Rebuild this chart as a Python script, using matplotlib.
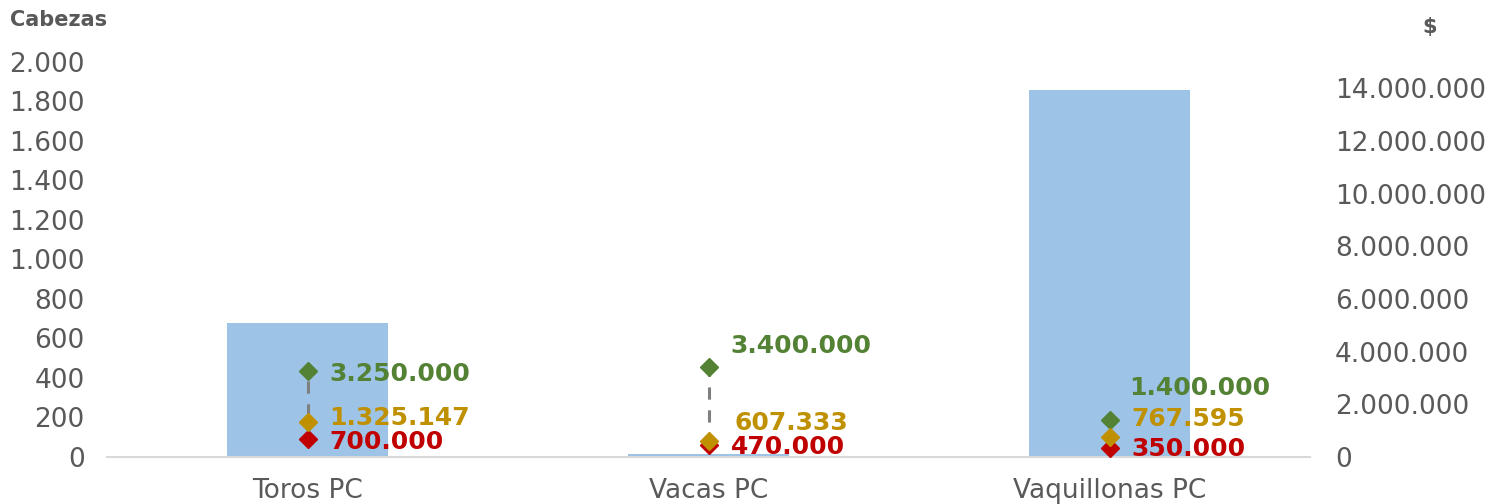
import matplotlib
matplotlib.use("Agg")
import matplotlib.pyplot as plt
from matplotlib.ticker import FuncFormatter

categories = ["Toros PC", "Vacas PC", "Vaquillonas PC"]
cabezas = [678, 15, 1858]
precio_max = [3250000, 3400000, 1400000]
precio_prom = [1325147, 607333, 767595]
precio_min = [700000, 470000, 350000]

left_ticks = list(range(0, 2001, 200))
right_ticks = list(range(0, 14000001, 2000000))

BAR = "#9DC3E6"
GREEN = "#548235"
GOLD = "#BF9000"
RED = "#C00000"
TXT = "#595959"

def fmt(v, _=None):
    return f"{int(round(v)):,}".replace(",", ".")

plt.rcParams['font.family'] = ['DejaVu Sans']

fig = plt.figure(figsize=(15.06, 5.04), dpi=100)
ax = fig.add_axes([0.0711, 0.0933, 0.8699 - 0.0711, 0.877 - 0.0933])
x = list(range(len(categories)))
ax.bar(x, cabezas, width=0.40, color=BAR, zorder=1)
ax.set_xlim(-0.5, 2.5)
ax.set_ylim(0, 2000)
ax.set_yticks(left_ticks)
ax.yaxis.set_major_formatter(FuncFormatter(fmt))
ax.set_xticks(x)
ax.set_xticklabels(categories)
for s in ["top", "right", "left"]:
    ax.spines[s].set_visible(False)
ax.spines["bottom"].set_color("#D9D9D9")
ax.spines["bottom"].set_linewidth(1.5)
ax.tick_params(axis="y", length=0, pad=16, labelsize=19, labelcolor=TXT)
ax.tick_params(axis="x", length=0, pad=15, labelsize=19, labelcolor=TXT)

ax2 = ax.twinx()
ax2.set_ylim(0, 15000000)
ax2.set_yticks(right_ticks)
ax2.yaxis.set_major_formatter(FuncFormatter(fmt))
for s in ["top", "right", "left", "bottom"]:
    ax2.spines[s].set_visible(False)
ax2.tick_params(axis="y", length=0, pad=18, labelsize=19, labelcolor=TXT)

ax2.vlines(x, precio_min, precio_max, colors="#7F7F7F", linestyles=(0, (4, 3.5)),
           linewidth=2.2, zorder=2)
ax2.plot(x, precio_max, "D", color=GREEN, ms=9, zorder=3, linestyle="none")
ax2.plot(x, precio_min, "D", color=RED, ms=9, zorder=3, linestyle="none")
ax2.plot(x, precio_prom, "D", color=GOLD, ms=9, zorder=4, linestyle="none")

# label offsets in pixels (dx, dy) per category
px = 72 / 100
off_max = [(22, -3), (22, 21), (20, 32)]
off_prom = [(22, 4), (26, 18), (22, 18)]
off_min = [(22, -3), (22, -2), (22, -1)]
for vals, offs, col in [(precio_max, off_max, GREEN), (precio_prom, off_prom, GOLD),
                        (precio_min, off_min, RED)]:
    for i, v in enumerate(vals):
        ax2.annotate(fmt(v), (x[i], v), xytext=(offs[i][0] * px, offs[i][1] * px),
                     textcoords="offset points", ha="left", va="center",
                     fontsize=18, fontweight="bold", color=col, zorder=5)

fig.text(10 / 1506, 1 - 20 / 504, "Cabezas", fontsize=15, fontweight="bold",
         color=TXT, ha="left", va="center")
fig.text(1430 / 1506, 1 - 27 / 504, "$", fontsize=15, fontweight="bold",
         color=TXT, ha="center", va="center")

fig.savefig("out.png", dpi=100)
